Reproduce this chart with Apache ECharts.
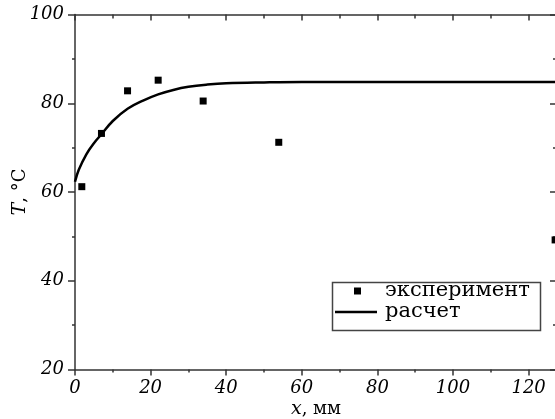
<!DOCTYPE html>
<html>
<head>
<meta charset="utf-8">
<script src="https://cdn.jsdelivr.net/npm/echarts@6/dist/echarts.min.js"></script>
<style>
    html, body {margin: 0; padding: 0; background: #fff;}
    #chart {width: 555px; height: 419px;}
</style>
</head>
<body>
<div id="chart"></div>
<script>
    // экспериментальные точки
    let expX = [1.8, 7, 13.9, 22, 33.9, 53.9, 127];
    let expT = [61.2, 73.2, 82.8, 85.2, 80.5, 71.2, 49.2];
    // расчетная кривая
    let calcX = [0, 1, 3, 5, 7, 10, 14, 18, 22, 26, 30, 35, 40, 50, 60, 80, 100, 127.5];
    let calcT = [62.3, 65, 68.5, 71, 73, 76, 78.8, 80.6, 82, 83, 83.7, 84.2, 84.5, 84.7, 84.8, 84.8, 84.8, 84.8];
    let seriesNames = ['эксперимент', 'расчет'];

    let serif = 'DejaVu Serif';
    let axisColor = '#333';

    let zip = (xs, ys) => xs.map((x, i) => [x, ys[i]]);

    let baseX = {
        type: 'value', min: 0, max: 127.5, interval: 20,
        splitLine: {show: false},
        axisLine: {show: true, onZero: false, lineStyle: {color: axisColor, width: 1.5}},
        minorTick: {show: true, splitNumber: 2, length: 3, lineStyle: {color: axisColor, width: 1.5}},
        axisTick: {show: true, length: 6, lineStyle: {color: axisColor, width: 1.5}}
    };
    let baseY = {
        type: 'value', min: 20, max: 100, interval: 20,
        splitLine: {show: false},
        axisLine: {show: true, onZero: false, lineStyle: {color: axisColor, width: 1.5}},
        minorTick: {show: true, splitNumber: 2, length: 3, lineStyle: {color: axisColor, width: 1.5}},
        axisTick: {show: true, length: 7, lineStyle: {color: axisColor, width: 1.5}}
    };

    let option = {
        animation: false,
        backgroundColor: '#fff',
        grid: {left: 75, top: 14.5, width: 482, height: 355, containLabel: false, outerBoundsMode: 'none'},
        xAxis: [
            Object.assign({}, baseX, {
                position: 'bottom',
                axisLabel: {
                    margin: 10, color: '#000', fontFamily: serif, fontStyle: 'italic', fontSize: 18,
                    showMaxLabel: false
                },
                name: '{i|x}{n|, мм}', nameLocation: 'middle', nameGap: 30, nameMoveOverlap: false,
                nameTextStyle: {
                    rich: {
                        i: {fontFamily: serif, fontStyle: 'italic', fontSize: 19, color: '#000'},
                        n: {fontFamily: serif, fontSize: 18, color: '#000'}
                    }
                }
            }),
            Object.assign({}, baseX, {
                position: 'top',
                axisLabel: {show: false},
                axisTick: Object.assign({}, baseX.axisTick, {inside: true}),
                minorTick: Object.assign({}, baseX.minorTick, {length: 4})
            })
        ],
        yAxis: [
            Object.assign({}, baseY, {
                position: 'left',
                axisLabel: {margin: 11, color: '#000', fontFamily: serif, fontStyle: 'italic', fontSize: 18},
                name: '{i|T}{n|, °C}', nameLocation: 'middle', nameGap: 45, nameRotate: 90, nameMoveOverlap: false,
                nameTextStyle: {
                    rich: {
                        i: {fontFamily: serif, fontStyle: 'italic', fontSize: 19, color: '#000'},
                        n: {fontFamily: serif, fontSize: 18, color: '#000'}
                    }
                }
            }),
            Object.assign({}, baseY, {
                position: 'right',
                axisLabel: {show: false},
                axisTick: Object.assign({}, baseY.axisTick, {inside: true}),
                minorTick: Object.assign({}, baseY.minorTick, {length: 4})
            })
        ],
        legend: [
            {
                data: [seriesNames[0]], left: 354, top: 280, orient: 'vertical', padding: 0,
                icon: 'rect', itemWidth: 7, itemHeight: 7,
                textStyle: {fontFamily: serif, fontSize: 21, color: '#000', padding: [0, 0, 0, 19], lineHeight: 22}
            },
            {
                data: [{name: seriesNames[1], icon: 'rect'}], left: 335, top: 301, orient: 'vertical', padding: 0,
                itemWidth: 42, itemHeight: 2.5,
                textStyle: {fontFamily: serif, fontSize: 21, color: '#000', padding: [0, 0, 0, 3], lineHeight: 22}
            }
        ],
        graphic: [{
            type: 'rect', left: 330, top: 280, z: 100, silent: true,
            shape: {width: 208, height: 48},
            style: {fill: 'none', stroke: '#444', lineWidth: 1.5}
        }],
        series: [
            {
                name: seriesNames[0], type: 'scatter', xAxisIndex: 0, yAxisIndex: 0,
                symbol: 'rect', symbolSize: 7,
                itemStyle: {color: '#000', opacity: 1},
                data: zip(expX, expT), z: 3
            },
            {
                name: seriesNames[1], type: 'line', xAxisIndex: 0, yAxisIndex: 0,
                smooth: 0.4, showSymbol: false, symbol: 'none',
                lineStyle: {color: '#000', width: 2.5},
                itemStyle: {color: '#000'},
                data: zip(calcX, calcT), z: 2
            }
        ]
    };

    let chart = echarts.init(document.getElementById('chart'));
    chart.setOption(option);
</script>
</body>
</html>
